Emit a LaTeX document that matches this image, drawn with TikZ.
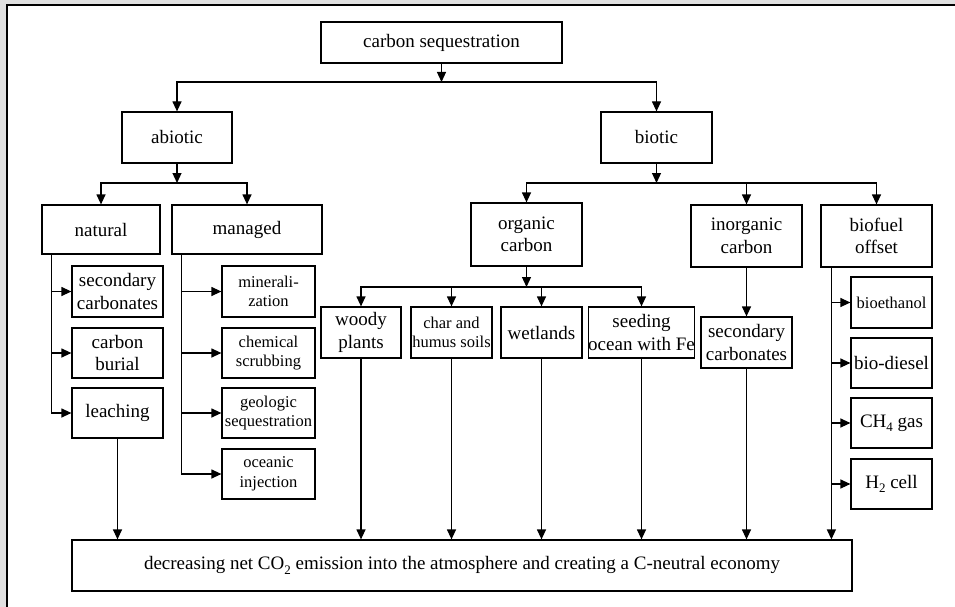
\documentclass[tikz,border=0pt]{standalone}
\usepackage{fontspec}
\setmainfont{Liberation Serif}
\usetikzlibrary{arrows.meta}
\newcommand{\lowsub}[1]{\raisebox{-0.5ex}{\fontsize{13}{13}\selectfont #1}}
\tikzset{
  box/.style={draw, line width=1.2pt, inner sep=0pt, align=center,
    font=\fontsize{19}{22.5}\selectfont},
  sbox/.style={box, font=\fontsize{16.5}{19.5}\selectfont},
  arr/.style={-{Triangle[length=10pt,width=9pt]}},
}

\begin{document}
\begin{tikzpicture}[x=1pt,y=-1pt,line width=1.2pt]
  \useasboundingbox (0,0) rectangle (955,607);
  % Frame
  \fill[black!12] (0,0) rectangle (955,607);
  \fill[white] (7,5) rectangle (955,607);
  \draw[line width=2pt] (7,607) -- (7,5) -- (955,5);

  % Top levels
  \node[box, minimum width=241pt, minimum height=41pt] (seq)     at (441.5,42.5) {carbon sequestration};
  \node[box, minimum width=110pt, minimum height=51pt] (abiotic) at (177,137.5)  {abiotic};
  \node[box, minimum width=111pt, minimum height=51pt] (biotic)  at (656.5,137.5) {biotic};

  % Abiotic branch
  \node[box, minimum width=118pt, minimum height=49pt] (natural) at (101,229.5) {natural};
  \node[box, minimum width=150pt, minimum height=49pt] (managed) at (247,229.5) {managed};
  \node[box, minimum width=91pt, minimum height=51pt] (seccarbA) at (117.5,291.5) {secondary\\carbonates};
  \node[box, minimum width=91pt, minimum height=50pt] (burial)   at (117.5,353)   {carbon\\burial};
  \node[box, minimum width=91pt, minimum height=50pt] (leaching) at (117.5,413)   {leaching};
  \node[sbox, minimum width=93pt, minimum height=51pt] (mineral)  at (268.5,291.5) {minerali-\\zation};
  \node[sbox, minimum width=93pt, minimum height=50pt] (scrub)    at (268.5,353)   {chemical\\scrubbing};
  \node[sbox, minimum width=93pt, minimum height=50pt] (geologic) at (268.5,413)   {geologic\\sequestration};
  \node[sbox, minimum width=93pt, minimum height=50pt] (oceanic)  at (268.5,474)   {oceanic\\injection};

  % Biotic branch
  \node[box, minimum width=111pt, minimum height=63pt] (organic)   at (526.5,234.5) {organic\\carbon};
  \node[box, minimum width=111pt, minimum height=62pt] (inorganic) at (746.5,236)   {inorganic\\carbon};
  \node[box, minimum width=111pt, minimum height=62pt] (biofuel)   at (876.5,236)   {biofuel\\offset};
  \node[box, minimum width=80pt, minimum height=51pt]  (woody)    at (361,332.5)   {woody\\plants};
  \node[sbox, minimum width=81pt, minimum height=51pt] (char)     at (451.5,332.5) {char and\\humus soils};
  \node[box, minimum width=81pt, minimum height=51pt]  (wetlands) at (541.5,332.5) {wetlands};
  \node[box, minimum width=101pt, minimum height=51pt] (seeding)  at (641.5,332.5) {seeding\\ocean with Fe};
  \node[box, minimum width=91pt, minimum height=51pt]  (seccarbB) at (746.5,342.5) {secondary\\carbonates};
  \node[sbox, minimum width=81pt, minimum height=51pt] (ethanol)  at (891.5,302.5) {bioethanol};
  \node[box, minimum width=81pt, minimum height=50pt]  (diesel)   at (891.5,363)   {bio-diesel};
  \node[box, minimum width=81pt, minimum height=50pt]  (methane)  at (891.5,423)   {CH\lowsub{4} gas};
  \node[box, minimum width=81pt, minimum height=50pt]  (hydrogen) at (891.5,484)   {H\lowsub{2} cell};

  % Goal
  \node[box, minimum width=780pt, minimum height=51pt] (goal) at (462,565.5)
    {decreasing net CO\lowsub{2} emission into the atmosphere and creating a C-neutral economy};

  % Buses
  \coordinate (busA) at (0,82);
  \coordinate (busB) at (0,183);
  \coordinate (busC) at (0,287);
  \coordinate (nat) at ([xshift=10pt]natural.south west);
  \coordinate (man) at ([xshift=10pt]managed.south west);
  \coordinate (bf)  at ([xshift=11pt]biofuel.south west);

  \draw[arr] (seq.south) -- (seq.south |- busA);
  \draw[arr] (seq.south |- busA) -| (abiotic.north);
  \draw[arr] (seq.south |- busA) -| (biotic.north);

  \draw[arr] (abiotic.south) -- (abiotic.south |- busB);
  \draw[arr] (abiotic.south |- busB) -| (natural.north);
  \draw[arr] (abiotic.south |- busB) -| (managed.north);

  \draw[arr] (biotic.south) -- (biotic.south |- busB);
  \draw[arr] (biotic.south |- busB) -| (organic.north);
  \draw[arr] (biotic.south |- busB) -| (inorganic.north);
  \draw[arr] (biotic.south |- busB) -| (biofuel.north);

  \draw[arr] (organic.south) -- (organic.south |- busC);
  \draw[arr] (organic.south |- busC) -| (woody.north);
  \draw[arr] (organic.south |- busC) -| (char.north);
  \draw[arr] (organic.south |- busC) -| (wetlands.north);
  \draw[arr] (organic.south |- busC) -| (seeding.north);

  \draw[arr] (inorganic.south) -- (seccarbB.north);

  % Side branches
  \draw[arr] (nat) |- (seccarbA.west);
  \draw[arr] (nat) |- (burial.west);
  \draw[arr] (nat) |- (leaching.west);
  \draw[arr] (man) |- (mineral.west);
  \draw[arr] (man) |- (scrub.west);
  \draw[arr] (man) |- (geologic.west);
  \draw[arr] (man) |- (oceanic.west);
  \draw[arr] (bf) |- (ethanol.west);
  \draw[arr] (bf) |- (diesel.west);
  \draw[arr] (bf) |- (methane.west);
  \draw[arr] (bf) |- (hydrogen.west);

  % Into the goal
  \draw[arr] (leaching.south) -- (leaching.south |- goal.north);
  \draw[arr] (woody.south)    -- (woody.south |- goal.north);
  \draw[arr] (char.south)     -- (char.south |- goal.north);
  \draw[arr] (wetlands.south) -- (wetlands.south |- goal.north);
  \draw[arr] (seeding.south)  -- (seeding.south |- goal.north);
  \draw[arr] (seccarbB.south) -- (seccarbB.south |- goal.north);
  \draw[arr] (bf) -- (bf |- goal.north);
\end{tikzpicture}
\end{document}
